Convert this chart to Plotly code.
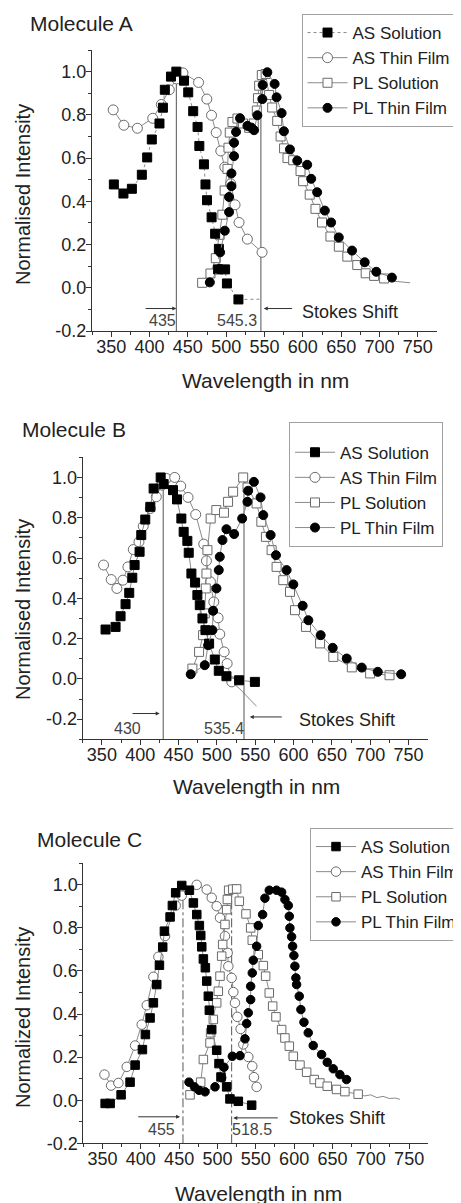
import plotly.graph_objects as go

FONT = "Liberation Sans, Arial, sans-serif"
TXT = "#222222"

# ---------------- Molecule A ----------------
A_as_sol_x = [353.5, 366, 377, 390, 397, 403, 413, 417.5, 420, 428, 435, 445, 450.5, 457, 462.7, 465, 471, 473, 475, 481, 485.6, 490.5, 489.5, 498.6, 501, 516]
A_as_sol_y = [0.478, 0.436, 0.458, 0.523, 0.603, 0.686, 0.76, 0.833, 0.916, 0.977, 1.0, 0.958, 0.904, 0.817, 0.744, 0.656, 0.571, 0.478, 0.405, 0.326, 0.25, 0.18, 0.085, 0.085, 0.02, -0.054]
A_as_sol_tail_x = [516, 531, 547]
A_as_sol_tail_y = [-0.054, -0.053, -0.053]
A_as_film_x = [352.6, 366.5, 384.2, 404.2, 415.4, 425.8, 435.4, 443.6, 464, 474.8, 480.9, 487, 493, 498.2, 506, 511.6, 516.8, 527.7, 546.8]
A_as_film_y = [0.823, 0.752, 0.738, 0.784, 0.848, 0.916, 0.966, 0.994, 0.95, 0.873, 0.798, 0.718, 0.633, 0.558, 0.481, 0.384, 0.302, 0.225, 0.164]
A_pl_sol_x = [468.7, 479.5, 486.5, 491.5, 495, 498, 501.7, 503, 504.7, 508.2, 514.7, 522, 530, 536, 540, 541.5, 543, 546.5, 551.5, 556, 560, 566.6, 571, 575.5, 580, 587.4, 597, 600.4, 609, 616.5, 625, 636, 647, 658, 671, 682, 693, 706]
A_pl_sol_y = [0.023, 0.066, 0.137, 0.245, 0.338, 0.45, 0.55, 0.648, 0.718, 0.767, 0.783, 0.76, 0.74, 0.76, 0.82, 0.877, 0.935, 0.984, 0.989, 0.892, 0.834, 0.772, 0.70, 0.645, 0.60, 0.59, 0.54, 0.493, 0.431, 0.365, 0.302, 0.237, 0.19, 0.144, 0.105, 0.067, 0.055, 0.043]
A_pl_sol_tail_x = [706, 720, 740]
A_pl_sol_tail_y = [0.043, 0.03, 0.023]
A_pl_film_x = [478.7, 490.8, 492.1, 498.2, 503.8, 503.8, 506.9, 506.9, 510.3, 510.3, 512.9, 518.1, 527.7, 532.9, 536.4, 540.7, 547.2, 547.6, 553.7, 563.2, 565.8, 572.3, 575.3, 583.2, 592.7, 605.7, 610.9, 618.7, 628.7, 636.9, 646.9, 664.2, 680.7, 695.8, 716.2]
A_pl_film_y = [0.025, 0.087, 0.164, 0.264, 0.35, 0.42, 0.47, 0.529, 0.609, 0.671, 0.721, 0.784, 0.749, 0.741, 0.729, 0.798, 0.873, 0.938, 0.997, 0.943, 0.881, 0.808, 0.724, 0.64, 0.588, 0.569, 0.504, 0.442, 0.357, 0.302, 0.233, 0.172, 0.118, 0.074, 0.047]
A_peaks = [435, 545.3]
A_peak_labels = ["435", "545.3"]

# ---------------- Molecule B ----------------
B_as_sol_x = [354.8, 367.9, 374.4, 380.9, 385.7, 389.7, 392.7, 399.2, 401.4, 406.6, 413.2, 417.5, 426.7, 430.6, 442.8, 448, 453.7, 456.7, 461.5, 463.3, 466.8, 471.6, 474.6, 477.7, 481.2, 485.1, 489.9, 497.3, 502.5, 512.5, 529, 549.6]
B_as_sol_y = [0.245, 0.258, 0.311, 0.371, 0.427, 0.502, 0.565, 0.631, 0.714, 0.791, 0.854, 0.945, 1.0, 0.967, 0.937, 0.891, 0.796, 0.73, 0.685, 0.626, 0.523, 0.478, 0.416, 0.366, 0.3, 0.242, 0.175, 0.096, 0.04, 0.013, -0.007, -0.015]
B_as_film_x = [352.2, 362.2, 369.6, 377.5, 384, 391, 398.4, 404, 413.2, 421, 428, 434.1, 445, 452.9, 462.4, 472.4, 482.9, 486.4, 491.6, 496, 501.6, 503.8, 509.5, 513.4, 519.5]
B_as_film_y = [0.565, 0.493, 0.449, 0.49, 0.556, 0.642, 0.68, 0.758, 0.846, 0.904, 0.962, 0.995, 1.0, 0.957, 0.901, 0.816, 0.669, 0.586, 0.482, 0.382, 0.303, 0.222, 0.134, 0.076, -0.015]
B_as_film_tail_x = [519.5, 530, 540, 551.7]
B_as_film_tail_y = [-0.015, -0.05, -0.09, -0.136]
B_pl_sol_x = [468.1, 476.8, 482, 484.2, 485.5, 486.4, 487.7, 491.9, 499.3, 509.3, 514.6, 521.2, 534.3, 540, 551.8, 558, 564, 571.4, 577.9, 586.6, 595.4, 601.9, 616.3, 634.6, 651.9, 676, 699.9, 725.2]
B_pl_sol_y = [0.051, 0.134, 0.217, 0.325, 0.449, 0.523, 0.639, 0.796, 0.838, 0.825, 0.879, 0.929, 1.0, 0.95, 0.871, 0.78, 0.705, 0.639, 0.556, 0.49, 0.432, 0.341, 0.258, 0.176, 0.109, 0.057, 0.027, 0.018]
B_pl_film_x = [465.9, 484.2, 488.6, 494.2, 495.1, 499.5, 502.5, 503.8, 507.3, 512.5, 522.5, 533, 539.9, 540.8, 548.3, 557, 560.5, 570.1, 577.1, 591, 599.7, 611.9, 619.3, 635.4, 651.1, 669.4, 689, 709.9, 740.4]
B_pl_film_y = [0.023, 0.068, 0.167, 0.242, 0.338, 0.449, 0.54, 0.606, 0.689, 0.743, 0.719, 0.796, 0.879, 0.934, 0.978, 0.901, 0.813, 0.714, 0.614, 0.54, 0.469, 0.363, 0.291, 0.217, 0.154, 0.101, 0.056, 0.035, 0.023]
B_peaks = [430, 535.4]
B_peak_labels = ["430", "535.4"]

# ---------------- Molecule C ----------------
C_as_sol_x = [353.5, 360, 374.3, 386, 392.6, 402.1, 406, 412.1, 416.4, 420.8, 424.3, 428.6, 430.8, 438.2, 441.2, 445.5, 453.4, 463.4, 468.6, 473, 476.4, 478.2, 479.5, 481.6, 484.2, 486, 488.1, 489.4, 492.5, 499, 502, 504.6, 512, 516.3, 527.2, 544.6]
C_as_sol_y = [-0.015, -0.015, 0.025, 0.084, 0.163, 0.235, 0.305, 0.382, 0.452, 0.537, 0.627, 0.711, 0.785, 0.851, 0.904, 0.963, 0.997, 0.975, 0.916, 0.862, 0.811, 0.765, 0.712, 0.656, 0.615, 0.553, 0.483, 0.418, 0.328, 0.232, 0.17, 0.108, 0.062, 0.006, -0.005, -0.023]
C_as_film_x = [352.6, 361.3, 370.8, 381.7, 392.6, 401.2, 407.8, 416.4, 422.9, 431.6, 445.5, 453.4, 472.9, 486, 492.5, 499, 503.3, 509.8, 513.3, 514.2, 518.5, 520.7, 522.8, 525.9, 530.2, 533.7, 540.2, 545.4, 547.6, 551.1]
C_as_film_y = [0.119, 0.068, 0.08, 0.155, 0.254, 0.351, 0.441, 0.573, 0.666, 0.762, 0.904, 0.95, 1.0, 0.978, 0.94, 0.901, 0.847, 0.762, 0.684, 0.622, 0.568, 0.502, 0.452, 0.387, 0.331, 0.259, 0.201, 0.158, 0.107, 0.062]
C_pl_sol_x = [464.2, 478.1, 481.6, 490.3, 491.1, 494.6, 499, 501.1, 503.3, 505.5, 506.8, 509.8, 512, 512.9, 514.6, 520, 525, 528.5, 537.2, 543.3, 545.4, 553.2, 559.8, 562.8, 567.6, 572, 576.3, 583.7, 588, 593.7, 598.9, 607.6, 616.3, 626.2, 633.6, 643.2, 655.3, 666.2, 683.5]
C_pl_sol_y = [0.025, 0.084, 0.189, 0.266, 0.313, 0.375, 0.452, 0.506, 0.576, 0.669, 0.723, 0.816, 0.885, 0.932, 0.975, 0.98, 0.981, 0.924, 0.865, 0.8, 0.743, 0.676, 0.625, 0.576, 0.498, 0.437, 0.387, 0.328, 0.289, 0.251, 0.204, 0.163, 0.13, 0.096, 0.08, 0.065, 0.05, 0.04, 0.028]
C_pl_sol_tail_x = [683.5, 692, 700, 708, 716, 724, 732, 738]
C_pl_sol_tail_y = [0.028, 0.02, 0.025, 0.012, 0.018, 0.008, 0.01, 0.004]
C_pl_film_x = [462.9, 469.9, 476, 483.8, 496.8, 505.5, 508.5, 519.4, 529.4, 535.9, 538.1, 540.2, 543.3, 543.3, 545.4, 546.7, 551.1, 553.2, 558.9, 561.9, 567.6, 577.1, 583.7, 588, 592.4, 593.7, 594.5, 596.7, 598, 599.7, 601, 602.3, 603.2, 606.7, 608.8, 612.8, 618.4, 624.9, 635.8, 643.2, 651, 659.7, 668.3]
C_pl_film_y = [0.084, 0.062, 0.046, 0.039, 0.062, 0.104, 0.153, 0.204, 0.207, 0.285, 0.356, 0.406, 0.467, 0.529, 0.591, 0.65, 0.715, 0.811, 0.862, 0.938, 0.975, 0.975, 0.966, 0.932, 0.904, 0.854, 0.8, 0.759, 0.715, 0.672, 0.622, 0.568, 0.537, 0.483, 0.421, 0.362, 0.313, 0.254, 0.212, 0.176, 0.146, 0.119, 0.096]
C_peaks = [455, 518.5]
C_peak_labels = ["455", "518.5"]

# ---------------- axes / labels ----------------
x_ticks = [350, 400, 450, 500, 550, 600, 650, 700, 750]
x_ticktext = ["350", "400", "450", "500", "550", "600", "650", "700", "750"]
y_ticks = [-0.2, 0.0, 0.2, 0.4, 0.6, 0.8, 1.0]
y_ticktext = ["-0.2", "0.0", "0.2", "0.4", "0.6", "0.8", "1.0"]
series_names = ["AS Solution", "AS Thin Film", "PL Solution", "PL Thin Film"]
panel_titles = ["Molecule A", "Molecule B", "Molecule C"]
y_titles = ["Normalised Intensity", "Normalised Intensity", "Normalized Intensity"]
x_title = "Wavelength in nm"
stokes_label = "Stokes Shift"

W, H = 461, 1203
OFF = 8  # page body margin
def px(x):
    return (x - OFF) / W
def py(y):
    return 1 - (y - OFF) / H

fig = go.Figure()

LINE_C = "#8a8a8a"
OPEN_C = "#6a6a6a"

def add_panel(idx, data, tails, peaks, yr, legend_name, as_sol_dash, peak_dash, peak_top, msz):
    xa = "x" if idx == 1 else f"x{idx}"
    ya = "y" if idx == 1 else f"y{idx}"
    (asx, asy), (afx, afy), (psx, psy), (pfx, pfy) = data
    styles = {
        0: dict(marker=dict(symbol="square", size=msz, color="black", line=dict(color="black", width=1)),
                line=dict(color=LINE_C, width=1, dash=as_sol_dash)),
        1: dict(marker=dict(symbol="circle", size=msz + 1, color="white", line=dict(color=OPEN_C, width=1)),
                line=dict(color=LINE_C, width=1)),
        2: dict(marker=dict(symbol="square", size=msz, color="white", line=dict(color=OPEN_C, width=1)),
                line=dict(color=LINE_C, width=1)),
        3: dict(marker=dict(symbol="circle", size=msz, color="black", line=dict(color="black", width=1)),
                line=dict(color=LINE_C, width=1)),
    }
    xy = {0: (asx, asy), 1: (afx, afy), 2: (psx, psy), 3: (pfx, pfy)}
    for k, (tx, ty) in tails.items():
        fig.add_trace(go.Scatter(x=tx, y=ty, mode="lines", line=styles[k]["line"],
                                 showlegend=False, xaxis=xa, yaxis=ya, hoverinfo="skip"))
    for p in peaks:
        fig.add_trace(go.Scatter(x=[p, p], y=[yr[0], peak_top], mode="lines",
                                 line=dict(color="#555555", width=1, dash=peak_dash),
                                 showlegend=False, xaxis=xa, yaxis=ya, hoverinfo="skip"))
    for k in [1, 2, 0, 3]:
        fig.add_trace(go.Scatter(x=xy[k][0], y=xy[k][1], mode="lines+markers", name=series_names[k],
                                 marker=styles[k]["marker"], line=styles[k]["line"],
                                 legend=legend_name, legendrank=k + 1, xaxis=xa, yaxis=ya))

add_panel(1, [(A_as_sol_x, A_as_sol_y), (A_as_film_x, A_as_film_y), (A_pl_sol_x, A_pl_sol_y), (A_pl_film_x, A_pl_film_y)],
          {0: (A_as_sol_tail_x, A_as_sol_tail_y), 2: (A_pl_sol_tail_x, A_pl_sol_tail_y)},
          A_peaks, [-0.2, 1.1], "legend", "dot", "solid", 1.0, 9)
add_panel(2, [(B_as_sol_x, B_as_sol_y), (B_as_film_x, B_as_film_y), (B_pl_sol_x, B_pl_sol_y), (B_pl_film_x, B_pl_film_y)],
          {1: (B_as_film_tail_x, B_as_film_tail_y)},
          B_peaks, [-0.3, 1.1], "legend2", "solid", "solid", 1.0, 9)
add_panel(3, [(C_as_sol_x, C_as_sol_y), (C_as_film_x, C_as_film_y), (C_pl_sol_x, C_pl_sol_y), (C_pl_film_x, C_pl_film_y)],
          {2: (C_pl_sol_tail_x, C_pl_sol_tail_y)},
          C_peaks, [-0.2, 1.1], "legend3", "solid", "dashdot", 0.98, 8.5)

geo = [(92, 437, 50, 331), (82.7, 427.7, 457.3, 739.3), (83.3, 428.3, 863.3, 1143.3)]
yranges = [[-0.2, 1.1], [-0.3, 1.1], [-0.2, 1.1]]

def xaxis_cfg(g, anchor):
    return dict(domain=[px(g[0]), px(g[1])], range=[325, 775], anchor=anchor,
                tickmode="array", tickvals=x_ticks, ticktext=x_ticktext,
                ticks="outside", ticklen=5, tickwidth=1, tickcolor="#333",
                showline=True, linecolor="#333", linewidth=1, showgrid=False, zeroline=False,
                minor=dict(ticks="outside", ticklen=3, tickwidth=1, tickcolor="#333",
                           tickvals=[325 + 50 * i for i in range(9)]),
                ticklabelstandoff=-6,
                tickfont=dict(family=FONT, size=18, color=TXT))

def yaxis_cfg(g, anchor, yr):
    return dict(domain=[py(g[3]), py(g[2])], range=yr, anchor=anchor,
                tickmode="array", tickvals=y_ticks, ticktext=y_ticktext,
                ticks="outside", ticklen=5, tickwidth=1, tickcolor="#333",
                showline=True, linecolor="#333", linewidth=1, showgrid=False, zeroline=False,
                minor=dict(ticks="outside", ticklen=3, tickwidth=1, tickcolor="#333",
                           tickvals=[-0.3, -0.1, 0.1, 0.3, 0.5, 0.7, 0.9, 1.1]),
                ticklabelstandoff=-4,
                tickfont=dict(family=FONT, size=18, color=TXT))

lay = {}
for i, g in enumerate(geo, start=1):
    xs = "xaxis" if i == 1 else f"xaxis{i}"
    ys = "yaxis" if i == 1 else f"yaxis{i}"
    lay[xs] = xaxis_cfg(g, "y" if i == 1 else f"y{i}")
    lay[ys] = yaxis_cfg(g, "x" if i == 1 else f"x{i}", yranges[i - 1])

leg_common = dict(xanchor="left", yanchor="top", bgcolor="white", bordercolor="#a0a0a0", borderwidth=1,
                  font=dict(family=FONT, size=17, color=TXT), itemwidth=40, tracegroupgap=0,
                  traceorder="normal")
lay["legend"] = dict(x=px(301.5), y=py(14), **leg_common)
lay["legend2"] = dict(x=px(289), y=py(422), title=dict(text=" ", font=dict(size=9)), **leg_common)
lay["legend3"] = dict(x=px(310), y=py(828), **leg_common)

ann = []
title_pos = [(28, 23), (20, 429.3), (35, 839)]
ytitle_pos = [(23, 195), (23, 610), (23, 1018)]
xtitle_pos = [(265, 380), (256, 786.7), (258.8, 1193)]
for i in range(3):
    ann.append(dict(text=panel_titles[i], x=px(title_pos[i][0]), y=py(title_pos[i][1]), xref="paper", yref="paper",
                    xanchor="left", yanchor="middle", showarrow=False, font=dict(family=FONT, size=21, color=TXT)))
    ann.append(dict(text=y_titles[i], x=px(ytitle_pos[i][0]), y=py(ytitle_pos[i][1]), xref="paper", yref="paper",
                    xanchor="center", yanchor="middle", textangle=-90, showarrow=False,
                    font=dict(family=FONT, size=20, color=TXT)))
    ann.append(dict(text=x_title, x=px(xtitle_pos[i][0]), y=py(xtitle_pos[i][1]), xref="paper", yref="paper",
                    xanchor="center", yanchor="middle", showarrow=False, font=dict(family=FONT, size=21, color=TXT)))

panel_ann = [
    dict(ax_ref=("x", "y"), labels=A_peak_labels, lab_x=[417.2, 514.3], lab_y=-0.150,
         left_arrow=(393, 435, -0.096), right_arrow=(588, 549, -0.096), stokes=(596, -0.112)),
    dict(ax_ref=("x2", "y2"), labels=B_peak_labels, lab_x=[384, 509.9], lab_y=-0.247,
         left_arrow=(388, 425.4, -0.172), right_arrow=(586.6, 543, -0.189), stokes=(604, -0.202)),
    dict(ax_ref=("x3", "y3"), labels=C_peak_labels, lab_x=[427.3, 545], lab_y=-0.136,
         left_arrow=(394.7, 451.2, -0.077), right_arrow=(580.6, 520.7, -0.082), stokes=(591, -0.082)),
]
for pa in panel_ann:
    xr, yr_ = pa["ax_ref"]
    for lab, lx in zip(pa["labels"], pa["lab_x"]):
        ann.append(dict(text=lab, x=lx, y=pa["lab_y"], xref=xr, yref=yr_, showarrow=False,
                        xanchor="center", yanchor="middle", font=dict(family=FONT, size=16, color="#444")))
    for (x0, x1, yy) in [pa["left_arrow"], pa["right_arrow"]]:
        ann.append(dict(text="", x=x1, y=yy, ax=x0, ay=yy, xref=xr, yref=yr_, axref=xr, ayref=yr_,
                        showarrow=True, arrowhead=2, arrowsize=0.8, arrowwidth=1, arrowcolor="#333",
                        standoff=0, startstandoff=0))
    ann.append(dict(text=stokes_label, x=pa["stokes"][0], y=pa["stokes"][1], xref=xr, yref=yr_, showarrow=False,
                    xanchor="left", yanchor="middle", font=dict(family=FONT, size=18, color=TXT)))

fig.update_layout(width=W, height=H, margin=dict(l=0, r=0, t=0, b=0, autoexpand=False), paper_bgcolor="white",
                  plot_bgcolor="white", showlegend=True, annotations=ann, font=dict(family=FONT), **lay)

fig.write_html("out.html")
